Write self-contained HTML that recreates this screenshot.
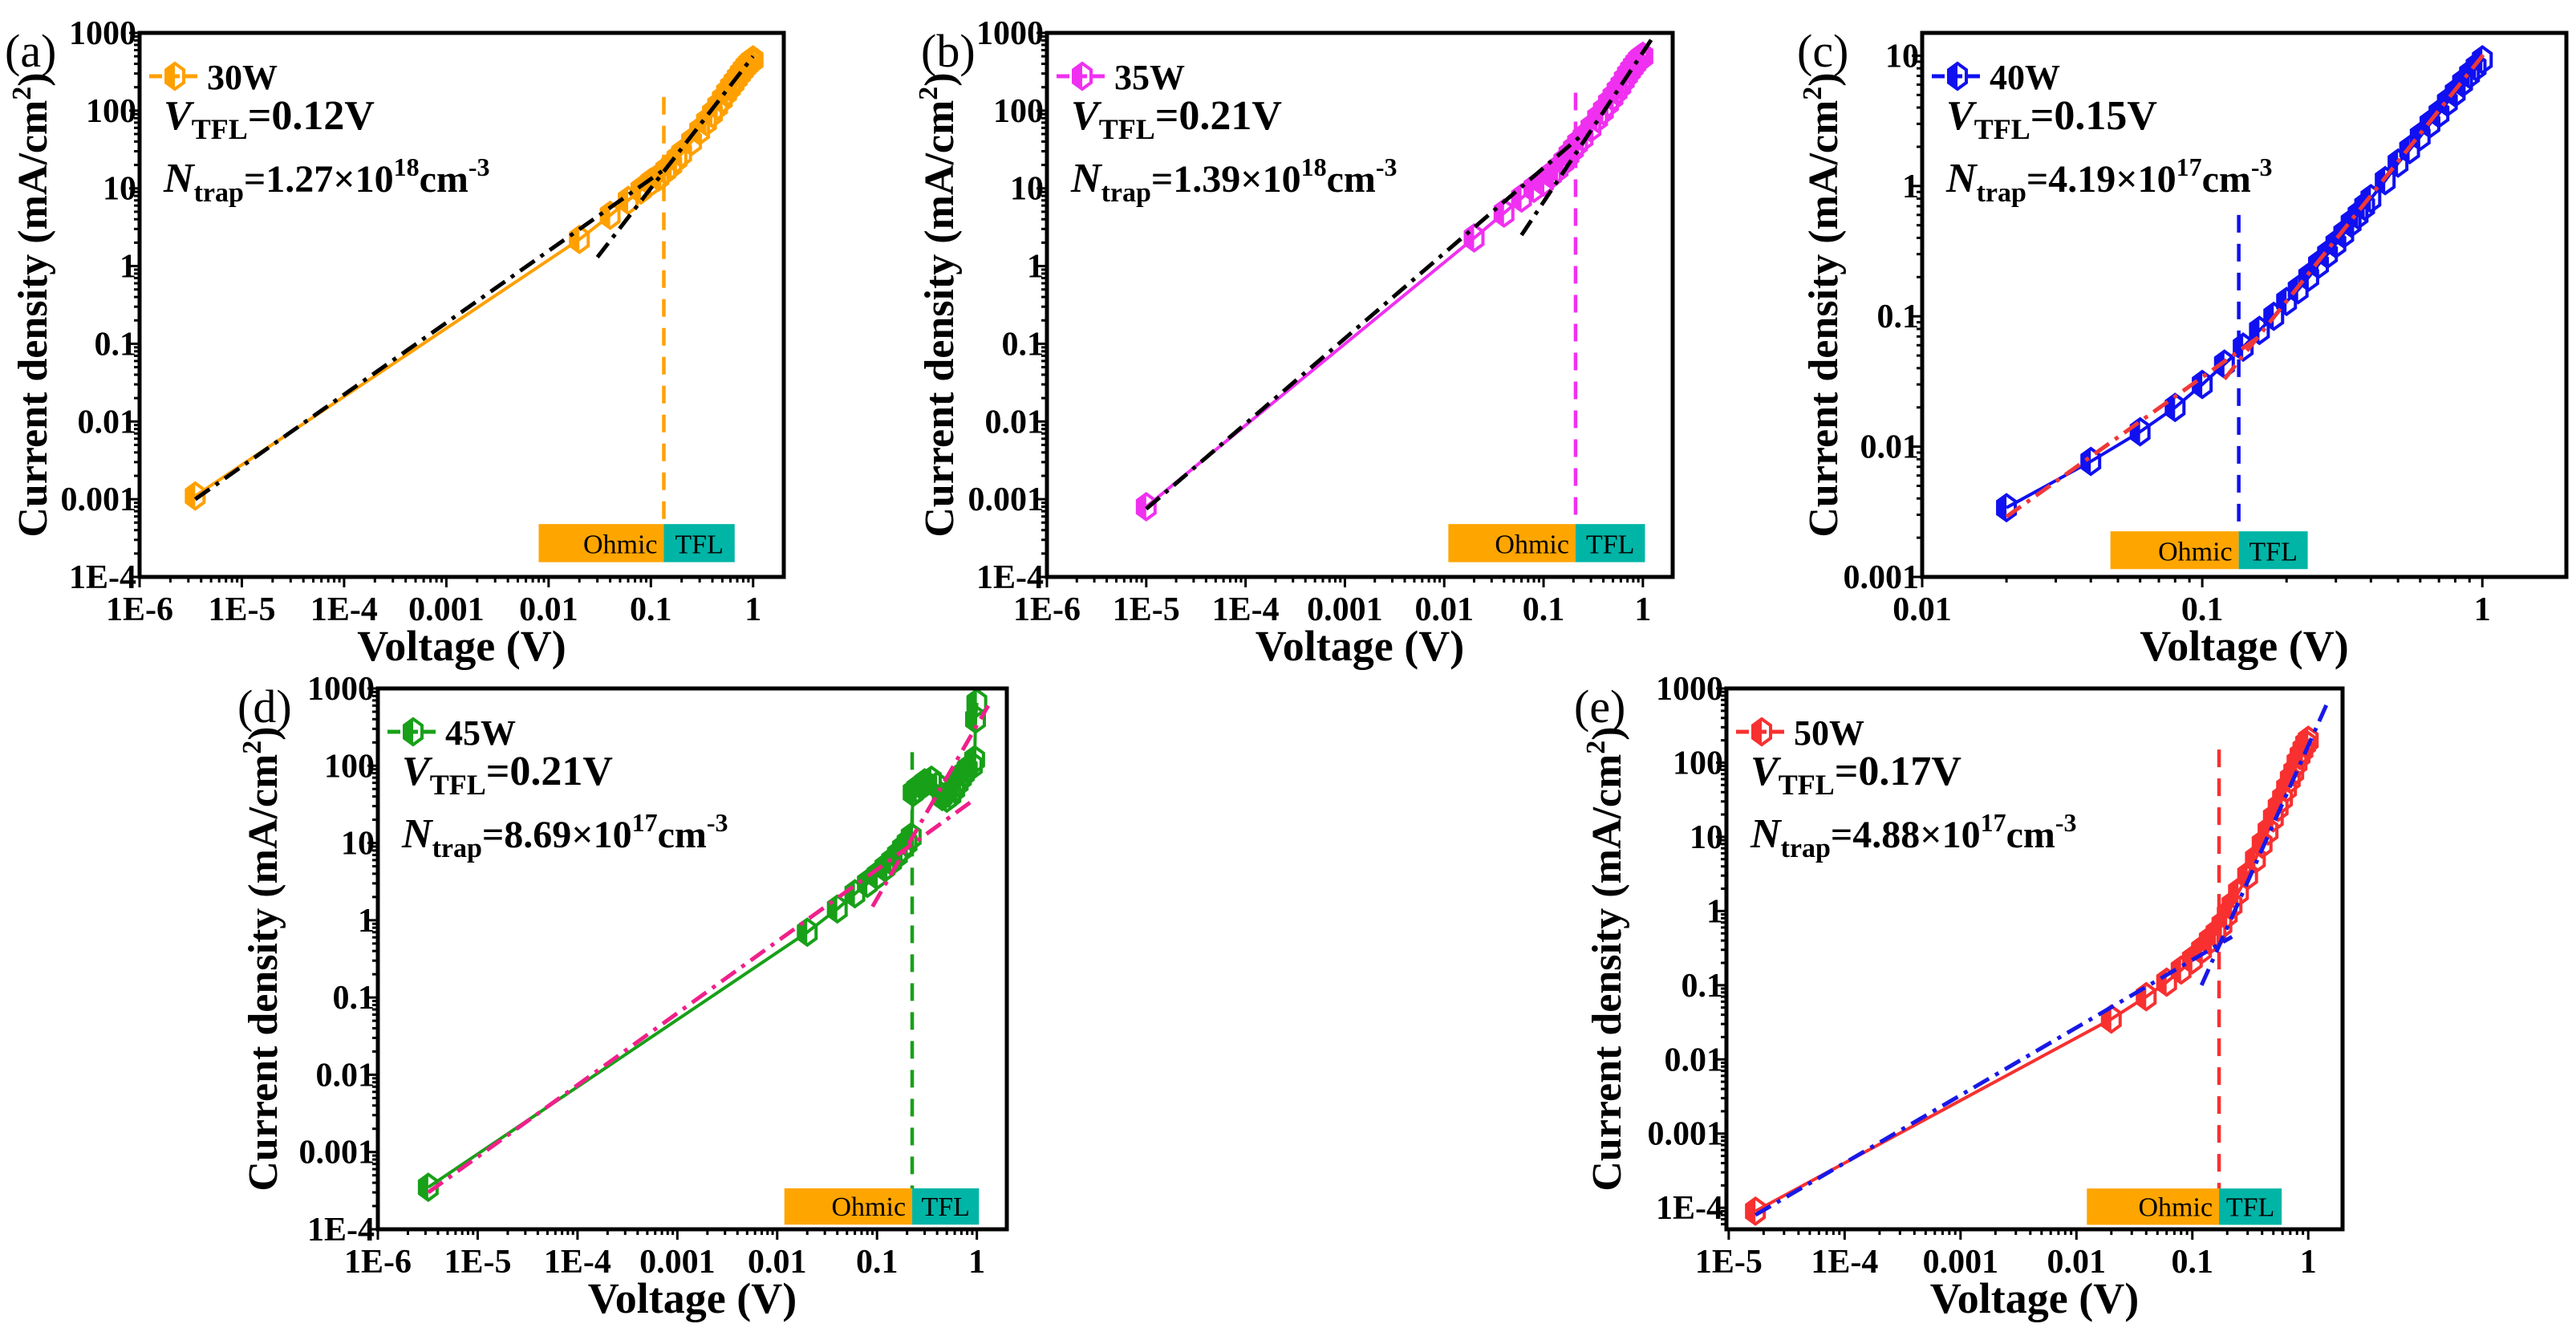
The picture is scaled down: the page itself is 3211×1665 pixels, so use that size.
<!DOCTYPE html>
<html><head><meta charset="utf-8"><style>
body{margin:0;background:#fff}
svg{display:block;font-family:"Liberation Serif",serif}
</style></head><body>
<svg id="fig" xmlns="http://www.w3.org/2000/svg" width="3211" height="1665" viewBox="0 0 3211 1665"></svg>
<script>
// ---------- DATA ----------
const aV=[3.5e-6,0.02,0.04,0.06,0.08,0.1,0.12,0.14,0.16,0.18,0.2,0.25,0.3,0.35,0.4,0.45,0.5,0.55,0.6,0.65,0.7,0.75,0.8,0.85,0.9,0.95,1.0];
const aJ=[0.0011,2.2,4.5,7,9.5,12,14,17,20,24,28,40,55,72,92,115,140,170,200,230,265,300,335,370,400,430,450];
const aFit1X=[3.5e-6,0.14]; const aFit1Y=[0.001,18];
const aFit2X=[0.03,1.0]; const aFit2Y=[1.3,500];
const aVtfl=0.134; const aBox=[0.008,0.134,0.66];

const bV=[1e-5,0.02,0.04,0.06,0.08,0.1,0.12,0.14,0.16,0.18,0.2,0.22,0.25,0.3,0.35,0.4,0.45,0.5,0.55,0.6,0.65,0.7,0.75,0.8,0.85,0.9,0.95,1.0];
const bJ=[0.0008,2.3,4.8,7.5,10,12,15,18,22,27,32,38,45,60,80,100,125,150,180,210,250,290,330,370,410,450,480,500];
const bFit1X=[1e-5,0.25]; const bFit1Y=[0.00075,50];
const bFit2X=[0.06,1.35]; const bFit2Y=[2.5,1000];
const bVtfl=0.21; const bBox=[0.011,0.21,1.05];

const cV=[0.02,0.04,0.06,0.08,0.1,0.12,0.14,0.16,0.18,0.2,0.22,0.24,0.26,0.28,0.3,0.32,0.34,0.36,0.38,0.4,0.45,0.5,0.55,0.6,0.65,0.7,0.75,0.8,0.85,0.9,0.95,1.0];
const cJ=[0.0034,0.0077,0.013,0.02,0.03,0.043,0.058,0.078,0.1,0.13,0.16,0.2,0.25,0.3,0.36,0.43,0.52,0.6,0.7,0.8,1.1,1.5,1.9,2.4,3.0,3.6,4.4,5.2,6.2,7.2,8.2,9.3];
const cFit1X=[0.02,0.16]; const cFit1Y=[0.0029,0.07];
const cFit2X=[0.12,1.02]; const cFit2Y=[0.033,10.5];
const cVtfl=0.135; const cBox=[0.047,0.135,0.238];

const dV=[3.2e-6,0.02,0.04,0.06,0.08,0.1,0.12,0.14,0.16,0.18,0.2,0.22,0.23,0.25,0.28,0.3,0.35,0.4,0.45,0.5,0.55,0.6,0.65,0.7,0.75,0.8,0.9,0.95,0.97,1.0];
const dJ=[0.00035,0.7,1.4,2.2,3,3.8,4.8,5.8,7,8.5,10,12,45,50,55,60,65,55,40,38,42,50,60,70,80,90,100,120,400,650];
const dFit1X=[3.2e-6,0.9]; const dFit1Y=[0.0003,35];
const dFit2X=[0.09,1.3]; const dFit2Y=[1.5,600];
const dVtfl=0.225; const dBox=[0.0118,0.225,1.05];

const eV=[1.7e-5,0.02,0.04,0.06,0.08,0.1,0.12,0.14,0.16,0.18,0.2,0.22,0.25,0.3,0.35,0.4,0.45,0.5,0.55,0.6,0.65,0.7,0.75,0.8,0.85,0.9,0.95,1.0];
const eJ=[0.00009,0.035,0.07,0.11,0.16,0.22,0.3,0.4,0.5,0.65,0.9,1.2,1.8,3,5,8,12,18,25,33,45,60,75,100,125,150,180,200];
const eFit1X=[1.7e-5,0.22]; const eFit1Y=[0.00008,0.45];
const eFit2X=[0.12,1.5]; const eFit2Y=[0.1,700];
const eVtfl=0.17; const eBox=[0.0123,0.17,0.59];

// ---------- DRAW ----------
const NS="http://www.w3.org/2000/svg";
const svg=document.getElementById('fig');
function el(tag,attrs,parent){const e=document.createElementNS(NS,tag);for(const k in attrs)e.setAttribute(k,attrs[k]);(parent||svg).appendChild(e);return e;}
function fmtTick(p){if(p<=-4)return '1E'+p;if(p<0)return (Math.pow(10,p)).toFixed(-p);return String(Math.pow(10,p));}

function panel(c){
  const g=el('g',{});
  
  
  const X=v=>c.x0+(Math.log10(v)-c.xmin)/(c.xmax-c.xmin)*(c.x1-c.x0);
  const Y=v=>c.y1-(Math.log10(v)-c.ymin)/(c.ymax-c.ymin)*(c.y1-c.y0);
  const tk=el('g',{stroke:'#000','stroke-width':3},g);
  
  
  for(let p=Math.floor(c.xmin);p<=Math.ceil(c.xmax);p++){
    for(let k=1;k<=9;k++){const lv=p+Math.log10(k);if(lv<c.xmin-1e-9||lv>c.xmax+1e-9)continue;
      const x=X(Math.pow(10,lv));const L=k==1?13:7;
      el('line',{x1:x,x2:x,y1:c.y1,y2:c.y1+L},tk);}
    if(p>=c.xmin-0.05&&p<=c.xmax){const t=el('text',{x:X(Math.pow(10,p)),y:c.y1+54,'text-anchor':'middle','font-size':42,'font-weight':'bold',stroke:'none'},g);t.textContent=fmtTick(p);
      }
  }
  for(let p=Math.floor(c.ymin);p<=Math.ceil(c.ymax);p++){
    for(let k=1;k<=9;k++){const lv=p+Math.log10(k);if(lv<c.ymin-1e-9||lv>c.ymax+1e-9)continue;
      const y=Y(Math.pow(10,lv));const L=k==1?13:7;
      el('line',{x1:c.x0,x2:c.x0-L,y1:y,y2:y},tk);}
    if(p>=c.ymin-1e-9&&p<=c.ymax+1e-9){const t=el('text',{x:c.x0-4,y:Y(Math.pow(10,p))+14,'text-anchor':'end','font-size':42,'font-weight':'bold'},g);t.textContent=fmtTick(p);
      }
  }
  const by0=Y(Math.pow(10,c.boxY[0])), by1=Y(Math.pow(10,c.boxY[1]));
  const ob=el('rect',{x:X(c.box[0]),y:by0,width:X(c.box[1])-X(c.box[0]),height:by1-by0,fill:'#ffa500'},g);
  
  const tb=el('rect',{x:X(c.box[1]),y:by0,width:X(c.box[2])-X(c.box[1]),height:by1-by0,fill:'#00b5a6'},g);
  
  let t=el('text',{x:X(c.box[1])-8,y:by1-11,'text-anchor':'end','font-size':34},g);t.textContent='Ohmic';
  
  t=el('text',{x:(X(c.box[1])+X(c.box[2]))/2,y:by1-11,'text-anchor':'middle','font-size':34},g);t.textContent='TFL';
  
  const vl=el('line',{x1:X(c.vtfl),x2:X(c.vtfl),y1:Y(c.vlineTop),y2:by0,stroke:c.col,'stroke-width':4.5,'stroke-dasharray':'22 14'},g);
  
  const pts=c.V.map((v,i)=>X(v)+','+Y(c.J[i])).join(' ');
  const pl=el('polyline',{points:pts,fill:'none',stroke:c.col,'stroke-width':4},g);
  
  function hex(cx,cy,parent){
    const w=11,h=16;
    const mg=el('g',{},parent);
    el('polygon',{points:`${cx},${cy-h} ${cx},${cy+h} ${cx-w},${cy+h/2} ${cx-w},${cy-h/2}`,fill:c.col},mg);
    el('polygon',{points:`${cx},${cy-h} ${cx+w},${cy-h/2} ${cx+w},${cy+h/2} ${cx},${cy+h} ${cx-w},${cy+h/2} ${cx-w},${cy-h/2}`,fill:'none',stroke:c.col,'stroke-width':4},mg);
    return mg;
  }
  c.V.forEach((v,i)=>{const m=hex(X(v),Y(c.J[i]),g);});
  [[c.f1x,c.f1y],[c.f2x,c.f2y]].forEach(([fx,fy])=>{
    const f=el('line',{x1:X(fx[0]),y1:Y(fy[0]),x2:X(fx[1]),y2:Y(fy[1]),stroke:c.fit,'stroke-width':5,'stroke-dasharray':'22 9 5 9'},g);
    
  });
  const fr=el('rect',{x:c.x0,y:c.y0,width:c.x1-c.x0,height:c.y1-c.y0,fill:'none',stroke:'#000','stroke-width':5},g);
  
  const lg=el('g',{},g);
  el('line',{x1:c.x0+12,x2:c.x0+76,y1:c.y0+54,y2:c.y0+54,stroke:c.col,'stroke-width':5,'stroke-dasharray':'16 6'},lg);
  hex(c.x0+44,c.y0+54,lg);
  t=el('text',{x:c.x0+84,y:c.y0+70,'font-size':44,'font-weight':'bold'},lg);t.textContent=c.legend;
  const a1=el('text',{x:c.x0+c.annX,y:c.y0+c.annY1,'font-size':52,'font-weight':'bold'},g);
  
  a1.innerHTML=`<tspan font-style="italic">V</tspan><tspan font-size="36" dy="12">TFL</tspan><tspan dy="-12">=${c.vtext}V</tspan>`;
  const a2=el('text',{x:c.x0+c.annX,y:c.y0+c.annY2,'font-size':48,'font-weight':'bold'},g);
  
  a2.innerHTML=`<tspan font-style="italic" font-size="52">N</tspan><tspan font-size="34" dy="12">trap</tspan><tspan dy="-12">=${c.nm}×10</tspan><tspan font-size="32" dy="-20">${c.ne}</tspan><tspan dy="20">cm</tspan><tspan font-size="32" dy="-20">-3</tspan>`;
  const xt=el('text',{x:(c.x0+c.x1)/2,y:c.y1+104,'text-anchor':'middle','font-size':54,'font-weight':'bold'},g);
  xt.textContent='Voltage (V)';
  const yt=el('text',{x:0,y:0,'text-anchor':'middle','font-size':52,'font-weight':'bold',transform:`translate(${c.ytx},${(c.y0+c.y1)/2}) rotate(-90)`},g);
  yt.innerHTML='Current density (mA/cm<tspan font-size="34" dy="-20">2</tspan><tspan dy="20">)</tspan>';
  
  const pl2=el('text',{x:c.lx,y:c.y0+42,'font-size':58},g);pl2.textContent='('+c.id+')';
  
}

const yTop1=41,yBot1=719,yTop2=858,yBot2=1532;
panel({id:'a',x0:174,x1:977,y0:yTop1,y1:yBot1,xmin:-6,xmax:0.30,ymin:-4,ymax:3,V:aV,J:aJ,f1x:aFit1X,f1y:aFit1Y,f2x:aFit2X,f2y:aFit2Y,vtfl:aVtfl,box:aBox,boxY:[-3.32,-3.81],vlineTop:150,col:'#ffa000',fit:'#000',legend:'30W',vtext:'0.12',nm:'1.27',ne:'18',annX:30,annY1:120,annY2:198,ytx:58,lx:6});
panel({id:'b',x0:1305,x1:2085,y0:yTop1,y1:yBot1,xmin:-6,xmax:0.30,ymin:-4,ymax:3,V:bV,J:bJ,f1x:bFit1X,f1y:bFit1Y,f2x:bFit2X,f2y:bFit2Y,vtfl:bVtfl,box:bBox,boxY:[-3.32,-3.81],vlineTop:170,col:'#f030f0',fit:'#000',legend:'35W',vtext:'0.21',nm:'1.39',ne:'18',annX:30,annY1:120,annY2:198,ytx:1188,lx:1148});
panel({id:'c',x0:2396,x1:3199,y0:yTop1,y1:yBot1,xmin:-2,xmax:0.30,ymin:-3,ymax:1.175,V:cV,J:cJ,f1x:cFit1X,f1y:cFit1Y,f2x:cFit2X,f2y:cFit2Y,vtfl:cVtfl,box:cBox,boxY:[-2.65,-2.94],vlineTop:0.6,col:'#1010f0',fit:'#f03838',legend:'40W',vtext:'0.15',nm:'4.19',ne:'17',annX:30,annY1:120,annY2:198,ytx:2290,lx:2240});
panel({id:'d',x0:471,x1:1255,y0:yTop2,y1:yBot2,xmin:-6,xmax:0.30,ymin:-4,ymax:3,V:dV,J:dJ,f1x:dFit1X,f1y:dFit1Y,f2x:dFit2X,f2y:dFit2Y,vtfl:dVtfl,box:dBox,boxY:[-3.47,-3.94],vlineTop:150,col:'#18a018',fit:'#f0208a',legend:'45W',vtext:'0.21',nm:'8.69',ne:'17',annX:30,annY1:120,annY2:198,ytx:345,lx:296});
panel({id:'e',x0:2152,x1:2920,y0:yTop2,y1:yBot2,xmin:-5.02,xmax:0.296,ymin:-4.29,ymax:3,V:eV,J:eJ,f1x:eFit1X,f1y:eFit1Y,f2x:eFit2X,f2y:eFit2Y,vtfl:eVtfl,box:eBox,boxY:[-3.74,-4.23],vlineTop:150,col:'#f83030',fit:'#1818e8',legend:'50W',vtext:'0.17',nm:'4.88',ne:'17',annX:30,annY1:120,annY2:198,ytx:2020,lx:1962});
</script>
</body></html>
